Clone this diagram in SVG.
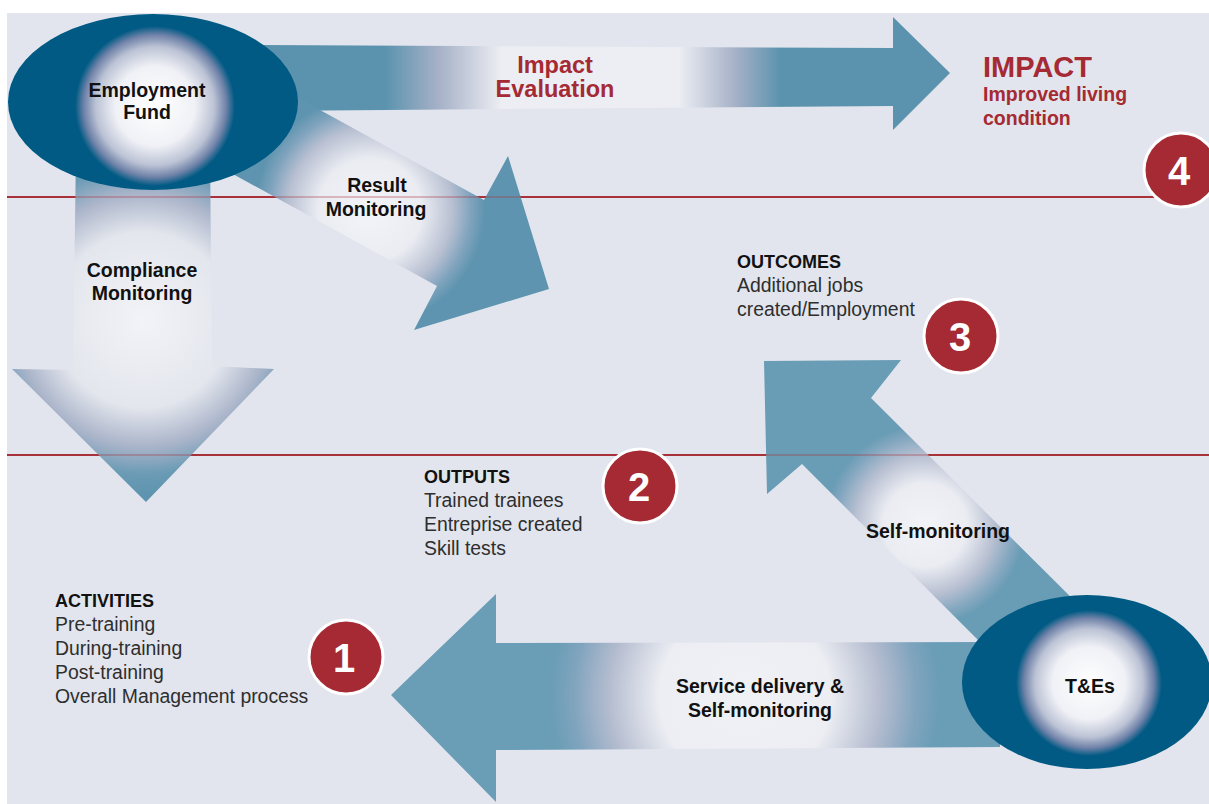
<svg xmlns="http://www.w3.org/2000/svg" width="1209" height="804" viewBox="0 0 1209 804">
<defs>
<style>
.lbl{font-family:"Liberation Sans",Arial,sans-serif;font-weight:bold;font-size:19.5px;fill:#111;text-anchor:middle}
.red{font-family:"Liberation Sans",Arial,sans-serif;font-weight:bold;fill:#a52a33}
.hd{font-family:"Liberation Sans",Arial,sans-serif;font-weight:bold;font-size:18px;fill:#111}
.bd{font-family:"Liberation Sans",Arial,sans-serif;font-size:19.4px;fill:#2e2e2e}
.num{font-family:"Liberation Sans",Arial,sans-serif;font-weight:bold;font-size:40px;fill:#fff;text-anchor:middle}
.badge{fill:#a52a33;stroke:#fff;stroke-width:3}
.rline{stroke:#a8323a;stroke-width:2;fill:none}
</style>
<linearGradient id="gTop" gradientUnits="userSpaceOnUse" x1="262" y1="0" x2="893" y2="0">
<stop offset="0.195" stop-color="#5b93ae"/>
<stop offset="0.28" stop-color="#a6b1c7"/>
<stop offset="0.38" stop-color="#eceef3"/>
<stop offset="0.66" stop-color="#eceef3"/>
<stop offset="0.75" stop-color="#a6b1c7"/>
<stop offset="0.822" stop-color="#5b93ae"/>
</linearGradient>
<radialGradient id="gRes" gradientUnits="userSpaceOnUse" cx="370" cy="210" r="115">
<stop offset="0" stop-color="#f3f4f8"/>
<stop offset="0.45" stop-color="#eaecf2"/>
<stop offset="0.72" stop-color="#b7bfd1"/>
<stop offset="0.88" stop-color="#7fa3bd"/>
<stop offset="1" stop-color="#5e94af"/>
</radialGradient>
<radialGradient id="gComp" gradientUnits="userSpaceOnUse" cx="143" cy="320" r="175">
<stop offset="0" stop-color="#f2f3f7"/>
<stop offset="0.5" stop-color="#e3e6ed"/>
<stop offset="0.72" stop-color="#abb5ca"/>
<stop offset="0.88" stop-color="#6b9bb5"/>
<stop offset="1" stop-color="#5e94af"/>
</radialGradient>
<radialGradient id="gSelf" gradientUnits="userSpaceOnUse" cx="925" cy="525" r="100">
<stop offset="0" stop-color="#f2f3f7"/>
<stop offset="0.42" stop-color="#eaecf2"/>
<stop offset="0.7" stop-color="#b7bfd1"/>
<stop offset="0.88" stop-color="#85a8c0"/>
<stop offset="1" stop-color="#699cb5"/>
</radialGradient>
<radialGradient id="gServ" gradientUnits="userSpaceOnUse" cx="745" cy="696" r="195">
<stop offset="0" stop-color="#f0f1f5"/>
<stop offset="0.44" stop-color="#eceef3"/>
<stop offset="0.7" stop-color="#b4bccf"/>
<stop offset="0.88" stop-color="#80a4be"/>
<stop offset="1" stop-color="#6a9db6"/>
</radialGradient>
<radialGradient id="gNode" cx="0.5" cy="0.5" r="0.5">
<stop offset="0" stop-color="#ffffff"/>
<stop offset="0.5" stop-color="#f0f1f6"/>
<stop offset="0.74" stop-color="#bcc3d5"/>
<stop offset="0.89" stop-color="#6f82a8"/>
<stop offset="1" stop-color="#005a84"/>
</radialGradient>
</defs>
<rect x="7" y="13" width="1202" height="791" fill="#e2e5ed"/>
<g id="levels">
<line class="rline" x1="7" y1="197" x2="1160" y2="197"/>
<line class="rline" x1="7" y1="455" x2="1209" y2="455"/>
</g>
<g id="connectors">
<g id="arrow-impact-evaluation">
<path d="M262 45 L893 48 L893 17 L950 73 L893 130 L893 106 L262 111 Z" fill="url(#gTop)"/>
<text class="red" x="555" y="73" font-size="23.5" text-anchor="middle">Impact</text>
<text class="red" x="555" y="97" font-size="23.5" text-anchor="middle">Evaluation</text>
</g>
<g id="arrow-result-monitoring">
<path d="M247 70 L484 200 L508 156 L549 289 L414 330 L437 286 L200 156 Z" fill="url(#gRes)"/>
<text class="lbl" x="377" y="192">Result</text>
<text class="lbl" x="376" y="216">Monitoring</text>
</g>
<g id="arrow-compliance-monitoring">
<path d="M76 150 L210 150 L212 366 L274 369 L146 502 L12 369 L73 370 Z" fill="url(#gComp)"/>
<text class="lbl" x="142" y="277">Compliance</text>
<text class="lbl" x="142" y="300">Monitoring</text>
</g>
<g id="arrow-self-monitoring">
<path d="M764 361 L901 360 L871 398 L1110 636 L1040 702 L802 464 L767 494 Z" fill="url(#gSelf)"/>
<text class="lbl" x="938" y="538">Self-monitoring</text>
</g>
<g id="arrow-service-delivery">
<path d="M1000 642 L496 643 L496 594 L391 695 L496 802 L496 750 L1000 747 Z" fill="url(#gServ)"/>
<text class="lbl" x="760" y="693">Service delivery &amp;</text>
<text class="lbl" x="760" y="717">Self-monitoring</text>
</g>
</g>
<g id="levels-overlay" opacity="0.3">
<line class="rline" x1="7" y1="197" x2="1160" y2="197"/>
<line class="rline" x1="7" y1="455" x2="1209" y2="455"/>
</g>
<g id="node-employment-fund">
<ellipse cx="153" cy="102" rx="145" ry="88" fill="#005a84"/>
<circle cx="155" cy="106" r="80" fill="url(#gNode)"/>
<text class="lbl" x="147" y="97">Employment</text>
<text class="lbl" x="147" y="119">Fund</text>
</g>
<g id="node-tes">
<ellipse cx="1087" cy="682" rx="125" ry="87" fill="#005a84"/>
<circle cx="1089" cy="683" r="73" fill="url(#gNode)"/>
<text class="lbl" x="1090" y="693">T&amp;Es</text>
</g>
<g id="impact">
<text class="red" x="983" y="77" font-size="29">IMPACT</text>
<text class="red" x="983" y="101" font-size="19.5">Improved living</text>
<text class="red" x="983" y="125" font-size="19.5">condition</text>
</g>
<g id="outcomes">
<text class="hd" x="737" y="268">OUTCOMES</text>
<text class="bd" x="737" y="292">Additional jobs</text>
<text class="bd" x="737" y="316">created/Employment</text>
</g>
<g id="outputs">
<text class="hd" x="424" y="483">OUTPUTS</text>
<text class="bd" x="424" y="507">Trained trainees</text>
<text class="bd" x="424" y="531">Entreprise created</text>
<text class="bd" x="424" y="555">Skill tests</text>
</g>
<g id="activities">
<text class="hd" x="55" y="607">ACTIVITIES</text>
<text class="bd" x="55" y="631">Pre-training</text>
<text class="bd" x="55" y="655">During-training</text>
<text class="bd" x="55" y="679">Post-training</text>
<text class="bd" x="55" y="703">Overall Management process</text>
</g>
<g id="badge-4"><circle class="badge" cx="1181" cy="170" r="37"/><text class="num" x="1179" y="185">4</text></g>
<g id="badge-3"><circle class="badge" cx="961" cy="336" r="37"/><text class="num" x="960" y="351">3</text></g>
<g id="badge-2"><circle class="badge" cx="640" cy="486" r="37"/><text class="num" x="639" y="501">2</text></g>
<g id="badge-1"><circle class="badge" cx="346" cy="657" r="37"/><text class="num" x="344" y="672">1</text></g>
</svg>
